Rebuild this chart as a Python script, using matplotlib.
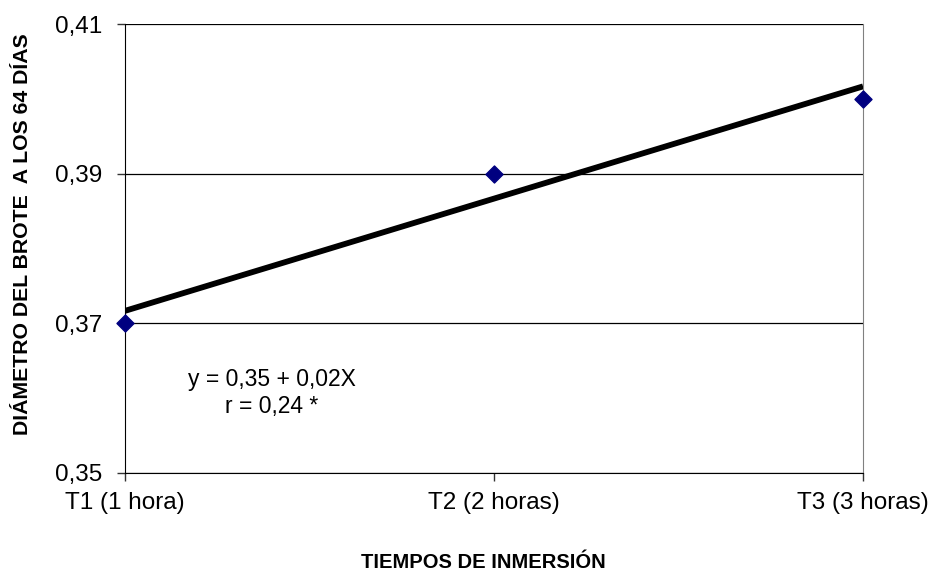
import matplotlib
matplotlib.use("Agg")
import matplotlib.pyplot as plt
import numpy as np

plt.rcParams['font.family'] = ['Liberation Sans', 'DejaVu Sans']

# datos
tratamientos = ['T1 (1 hora)', 'T2 (2 horas)', 'T3 (3 horas)']
x = np.array([1, 2, 3])
diametro = np.array([0.37, 0.39, 0.40])
y_ticks = [0.35, 0.37, 0.39, 0.41]
y_tick_labels = ['0,35', '0,37', '0,39', '0,41']

fig = plt.figure(figsize=(9.34, 5.72), dpi=100)
ax = fig.add_axes([0.1338, 0.1731, 0.924 - 0.1338, 0.958 - 0.1731])

# linea de tendencia (minimos cuadrados)
b, a = np.polyfit(x, diametro, 1)
ax.plot(x, a + b * x, color='black', lw=4.2, solid_capstyle='butt', zorder=3)
ax.scatter(x, diametro, marker='D', s=75, color='#000080', zorder=4, clip_on=False)

ax.set_xlim(1, 3)
ax.set_ylim(0.35, 0.41)
ax.set_xticks(x)
ax.set_xticklabels(tratamientos, fontsize=17.5)
ax.set_yticks(y_ticks)
ax.set_yticklabels(y_tick_labels, fontsize=17.5)
ax.yaxis.grid(True, color='black', lw=0.9)
ax.tick_params(axis='both', length=5.5, width=1, colors='#333333', labelcolor='black')
ax.tick_params(axis='x', pad=8)
ax.tick_params(axis='y', pad=11)

ax.spines['top'].set_visible(False)
ax.spines['right'].set_color('#808080')
ax.spines['left'].set_color('black')
ax.spines['bottom'].set_color('black')

ax.set_ylabel('DIÁMETRO DEL BROTE  A LOS 64 DÍAS', fontsize=15.3, fontweight='bold')
ax.yaxis.set_label_coords(-0.126, 0.533)
ax.set_xlabel('TIEMPOS DE INMERSIÓN', fontsize=14.5, fontweight='bold')
ax.xaxis.set_label_coords(0.486, -0.178)

ax.text(1.398, 0.3607, 'y = 0,35 + 0,02X\nr = 0,24 *', fontsize=16.5,
        ha='center', va='center', multialignment='center', linespacing=1.25)

fig.savefig('out.png', dpi=100)
